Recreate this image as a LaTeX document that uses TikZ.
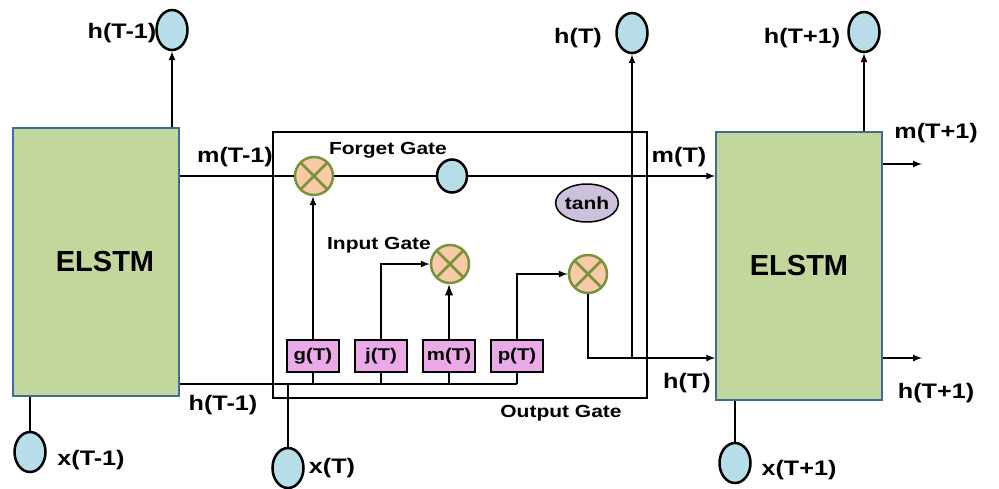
\documentclass[tikz,border=0pt]{standalone}
\usepackage{fontspec}
\setmainfont{Liberation Sans}
\newfontfamily\labfont[FakeStretch=1.2]{Liberation Sans}
\usetikzlibrary{shapes.geometric}
\definecolor{cellgreen}{RGB}{195,214,155}
\definecolor{cellblue}{RGB}{65,105,160}
\definecolor{iofill}{RGB}{183,222,232}
\definecolor{mulfill}{RGB}{250,202,168}
\definecolor{mulline}{RGB}{119,147,60}
\definecolor{gatefill}{RGB}{234,170,232}
\definecolor{tanhfill}{RGB}{204,192,218}
\tikzset{
  cell/.style={rectangle, draw=cellblue, fill=cellgreen, line width=1.5pt,
    minimum width=166pt, minimum height=268pt, font=\bfseries\fontsize{29}{30}\selectfont},
  io/.style={ellipse, draw, fill=iofill, line width=2.5pt, inner sep=0pt,
    minimum width=31pt, minimum height=40pt},
  mul/.style={circle, draw=mulline, fill=mulfill, line width=2.5pt, minimum size=38pt, inner sep=0pt,
    path picture={\draw[mulline, line width=2.5pt]
      (path picture bounding box.north west) -- (path picture bounding box.south east)
      (path picture bounding box.north east) -- (path picture bounding box.south west);}},
  gatebox/.style={rectangle, draw, fill=gatefill, line width=1.2pt,
    minimum width=52pt, minimum height=32pt, inner sep=0pt, font=\labfont\bfseries\fontsize{17}{18}\selectfont},
  lab/.style={font=\labfont\bfseries\fontsize{21}{22}\selectfont, inner sep=0pt},
  gatelab/.style={font=\labfont\bfseries\fontsize{17.5}{18}\selectfont, inner sep=0pt},
  wire/.style={line width=2pt}
}
\begin{document}
\begin{tikzpicture}[x=1pt,y=-1pt,>=latex]
\useasboundingbox (0,0) rectangle (999,488);
% cells
\node[cell] (cellL) at (96,262) {\hspace{18pt}ELSTM};
\node[cell] (cellR) at (799,266) {ELSTM};
\node[draw, line width=2pt, minimum width=374pt, minimum height=266pt] (frame) at (460,265) {};
% inputs and outputs
\node[io] (hL) at (172,30) {};
\node[io] (xL) at (30,452) {};
\node[io] (xT) at (288,468) {};
\node[io] (hT) at (632,33) {};
\node[io] (hR) at (864,32) {};
\node[io] (xR) at (735,463) {};
% inside the cell
\node[mul] (fgt) at (314,176) {};
\node[io, minimum width=30pt, minimum height=33pt] (cst) at (452,176) {};
\node[ellipse, draw, fill=tanhfill, line width=1.5pt, minimum width=58pt, minimum height=38pt, inner sep=0pt,
  font=\labfont\bfseries\fontsize{17.5}{18}\selectfont] (tanh) at (587,203) {tanh};
\node[mul] (inp) at (450,264) {};
\node[mul] (outm) at (588,274) {};
\node[gatebox] (gT) at (313,356) {g(T)};
\node[gatebox] (jT) at (381,356) {j(T)};
\node[gatebox] (mT) at (449,356) {m(T)};
\node[gatebox] (pT) at (517,356) {p(T)};
\coordinate (bus) at (0,384);
\coordinate (hrow) at (0,358);
\coordinate (mout) at (922,164);
\coordinate (hout) at (922,358);
% labels
\node[lab] (lhL) at (122,33) {h(T-1)};
\node[lab] (lxL) at (91,460) {x(T-1)};
\node[lab] (lmL) at (235,157) {m(T-1)};
\node[lab] (lhL2) at (223,405) {h(T-1)};
\node[lab] (lxT) at (332,468) {x(T)};
\node[lab] (lhT) at (578,38) {h(T)};
\node[lab] (lmT) at (679,157) {m(T)};
\node[lab] (lhT2) at (687,383) {h(T)};
\node[lab] (lhR) at (802,38) {h(T+1)};
\node[lab] (lmR) at (936,133) {m(T+1)};
\node[lab] (lhR2) at (936,393) {h(T+1)};
\node[lab] (lxR) at (799,470) {x(T+1)};
\node[gatelab] (lfg) at (388,150) {Forget Gate};
\node[gatelab] (lig) at (379,245) {Input Gate};
\node[gatelab] (log) at (561,413) {Output Gate};
% left cell
\draw[wire,->] (hL |- cellL.north) -- (hL.south);
\draw[wire] (xL) -- (xL |- cellL.south);
\draw[wire] (cellL.east |- fgt) -- (fgt);
\draw[wire] (cellL.east |- bus) -- (pT.south |- bus);
\draw[wire] (xT) -- (xT |- bus);
% forget path
\draw[wire] (fgt) -- (cst);
\draw[wire,->] (cst) -- (cst -| cellR.west);
% gates
\foreach \g in {gT,jT,mT,pT}
  \draw[wire] (\g.south) -- (\g.south |- bus);
\draw[wire,->] (gT.north) -- (gT.north |- fgt.south);
\draw[wire,->] (jT.north) |- (inp.west);
\draw[line width=2.8pt,->] (mT.north) -- (mT.north |- inp.south);
\draw[wire,->] (pT.north) |- (outm.west);
\draw[wire,->] (outm.south) |- (hrow -| cellR.west);
\draw[wire,->] (hrow -| hT) -- (hT.south);
% right cell
\draw[wire,->] (hR |- cellR.north) -- (hR.south);
\draw[wire] (xR) -- (xR |- cellR.south);
\draw[wire,->] (cellR.east |- mout) -- (mout);
\draw[wire,->] (cellR.east |- hout) -- (hout);
\end{tikzpicture}
\end{document}
